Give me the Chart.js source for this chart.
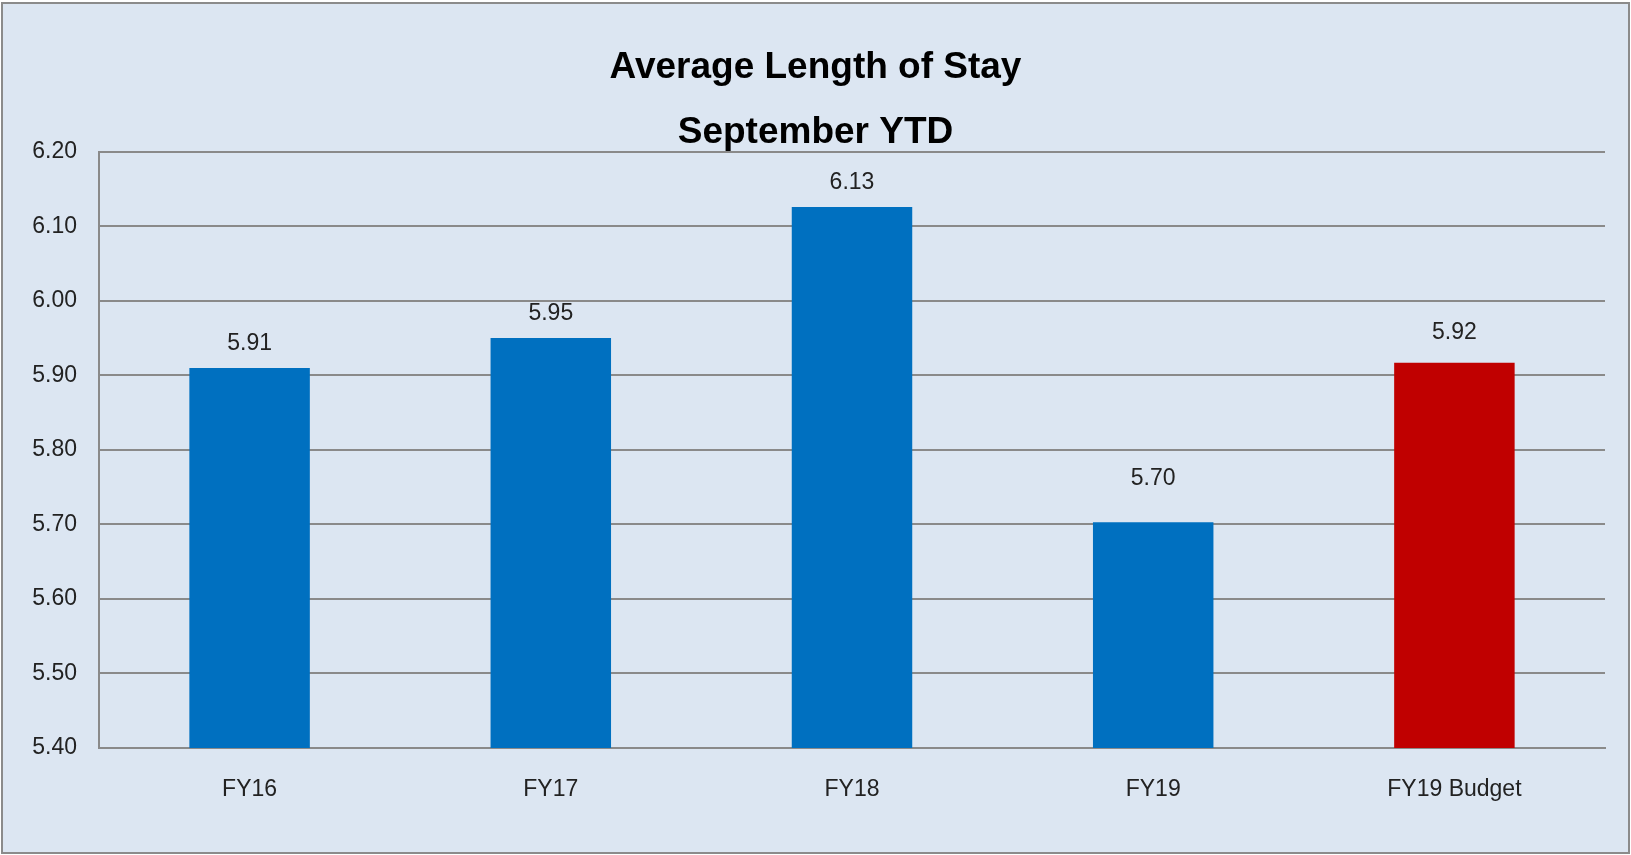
<!DOCTYPE html>
<html>
<head>
<meta charset="utf-8">
<script src="https://cdn.jsdelivr.net/npm/chart.js@4.4.1/dist/chart.umd.min.js"></script>
<style>
  body { margin: 0; background: #ffffff; }
  #box {
    position: absolute; left: 1px; top: 2px;
    width: 1629px; height: 852px;
    box-sizing: border-box;
    border: 2px solid #8b8b8b;
    background: #dce6f2;
  }
  #myChart { display: block; }
</style>
</head>
<body>
<div id="box"><canvas id="myChart" width="1625" height="848"></canvas></div>
<script>
// chart data
const categories = ['FY16', 'FY17', 'FY18', 'FY19', 'FY19 Budget'];
const stayValues = [5.91, 5.95, 6.126, 5.703, 5.917];
const yTickValues = [5.40, 5.50, 5.60, 5.70, 5.80, 5.90, 6.00, 6.10, 6.20];
const titleLines = ['Average Length of Stay', 'September YTD'];

// budget bar is red, the rest blue
const barColors = categories.map(c => c.includes('Budget') ? '#c00000' : '#0070c0');
// how far above each bar its value sits (the original labels were nudged by hand)
const labelGaps = [24, 24, 24, 44, 30];

const fontFamily = '"Liberation Sans", Arial, sans-serif';
const gridGray = '#8a8a8a';
const textColor = '#222222';

// draws the value above every bar
const valueLabels = {
  id: 'valueLabels',
  afterDatasetsDraw(chart) {
    let ctx = chart.ctx;
    ctx.save();
    ctx.font = '23px ' + fontFamily;
    ctx.fillStyle = textColor;
    ctx.textAlign = 'center';
    ctx.textBaseline = 'middle';
    chart.getDatasetMeta(0).data.forEach((bar, i) => {
      ctx.fillText(stayValues[i].toFixed(2), bar.x, bar.y - labelGaps[i]);
    });
    ctx.restore();
  }
};

let ctx = document.getElementById('myChart').getContext('2d');
let myChart = new Chart(ctx, {
  type: 'bar',
  data: {
    labels: categories,
    datasets: [{
      data: stayValues,
      backgroundColor: barColors,
      borderWidth: 0,
      categoryPercentage: 1.0,
      barPercentage: 0.4
    }]
  },
  plugins: [valueLabels],
  options: {
    responsive: false,
    animation: false,
    // same padding both sides so the title stays centred on the whole box
    layout: { padding: { left: 23, right: 23, top: 0, bottom: 0 } },
    plugins: {
      legend: { display: false },
      tooltip: { enabled: false },
      title: {
        display: true,
        text: titleLines,
        color: '#000000',
        font: { family: fontFamily, size: 37, weight: 'bold', lineHeight: 1.76 },
        padding: { top: 31, bottom: -13.5 }
      }
    },
    scales: {
      x: {
        grid: { display: false },
        border: { display: true, color: gridGray, width: 2 },
        ticks: { color: textColor, padding: 20, font: { family: fontFamily, size: 23 } },
        afterFit: (scale) => { scale.height = 104; }
      },
      y: {
        min: 5.4,
        max: 6.2,
        afterBuildTicks: (scale) => { scale.ticks = yTickValues.map(v => ({ value: v })); },
        grid: { color: gridGray, lineWidth: 2, drawTicks: false },
        border: { display: true, color: gridGray, width: 2 },
        ticks: {
          color: textColor,
          padding: 22,
          font: { family: fontFamily, size: 23 },
          callback: (v) => Number(v).toFixed(2)
        },
        afterFit: (scale) => { scale.width = 73; }
      }
    }
  }
});
</script>
</body>
</html>
